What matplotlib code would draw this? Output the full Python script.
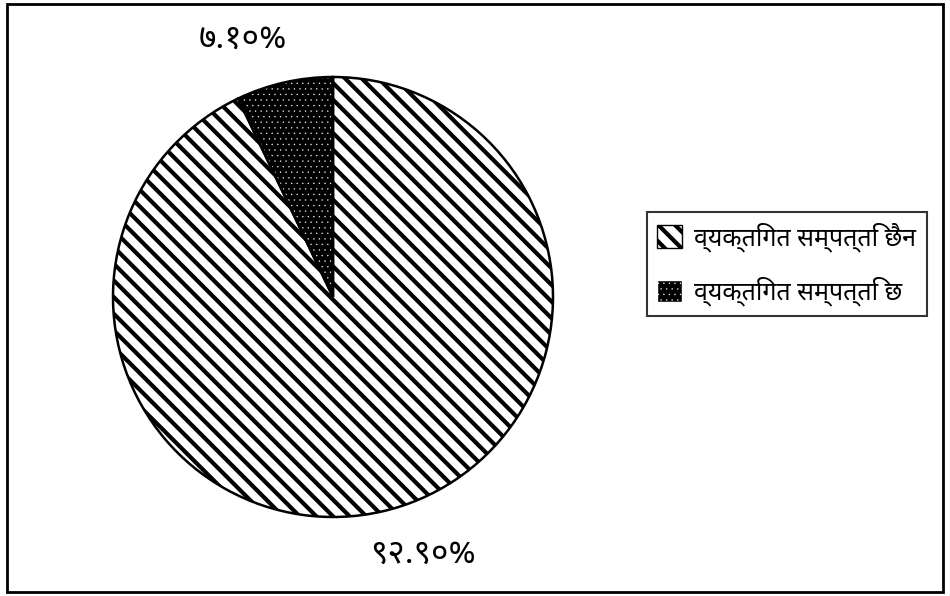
import matplotlib
matplotlib.use("Agg")
import matplotlib.pyplot as plt
import numpy as np
from matplotlib.patches import Rectangle
from matplotlib.font_manager import FontProperties

# ---- data ----
categories = ["व्यक्तिगत सम्पत्ति छ", "व्यक्तिगत सम्पत्ति छैन"]
values = [7.10, 92.90]
legend_order = [1, 0]

DEV = str.maketrans("0123456789", "०१२३४५६७८९")
def dev_pct(v):
    return f"{v:.2f}%".translate(DEV)

FAM = ["Noto Sans Devanagari", "DejaVu Sans"]
plt.rcParams["font.family"] = FAM

fig = plt.figure(figsize=(9.5, 5.96), dpi=100)
W, H = 950, 596

# outer frame
fig.patches.append(Rectangle((7 / W, 4 / H), (943 - 7) / W, (592 - 4) / H,
                             transform=fig.transFigure, fill=False,
                             edgecolor="black", linewidth=2.0))

cx, cy, R = 333, 299, 220
half = 1.3 * R
ax = fig.add_axes([(cx - half) / W, (cy - half) / H, 2 * half / W, 2 * half / H])

hatches = ["...", "\\\\"]
faces = ["black", "white"]
hcols = ["white", "black"]
lws = [0.2, 3.0]


def set_hlw(p, lw):
    if hasattr(p, "set_hatch_linewidth"):
        p.set_hatch_linewidth(lw)
    else:
        p._hatch_linewidth = lw


wedges, _ = ax.pie(values, startangle=90, counterclock=True,
                   colors=faces, wedgeprops=dict(linewidth=0))
for w, h, hc, lw in zip(wedges, hatches, hcols, lws):
    w.set_edgecolor(hc)
    w.set_linewidth(0)
    w.set_hatch(h)
    set_hlw(w, lw)

# outlines
ax.pie(values, startangle=90, counterclock=True,
       wedgeprops=dict(fill=False, edgecolor="black", linewidth=1.8))

# percentage labels
shift = 6.5
for w, v in zip(wedges, values):
    ang = np.deg2rad((w.theta1 + w.theta2) / 2 + shift)
    ax.text(1.24 * np.cos(ang), 1.24 * np.sin(ang), dev_pct(v),
            ha="center", va="center", fontsize=24, family=FAM)

ax.set_xlim(-1.3, 1.3)
ax.set_ylim(-1.3, 1.3)
ax.set_aspect("equal")
ax.axis("off")

leg = fig.legend([wedges[i] for i in legend_order],
                 [categories[i] for i in legend_order],
                 loc="center left", bbox_to_anchor=(647 / W, 1 - 264 / H),
                 prop=FontProperties(family=FAM, size=18),
                 frameon=True, fancybox=False, shadow=False,
                 handlelength=1.0, handleheight=1.0, handletextpad=0.5,
                 labelspacing=1.0, borderpad=0.4, borderaxespad=0)
leg.get_frame().set_edgecolor("black")
leg.get_frame().set_linewidth(1.5)
for p, i in zip(leg.get_patches(), legend_order):
    p.set_linewidth(1.0)
    set_hlw(p, lws[i])

fig.savefig("out.png", dpi=100)
